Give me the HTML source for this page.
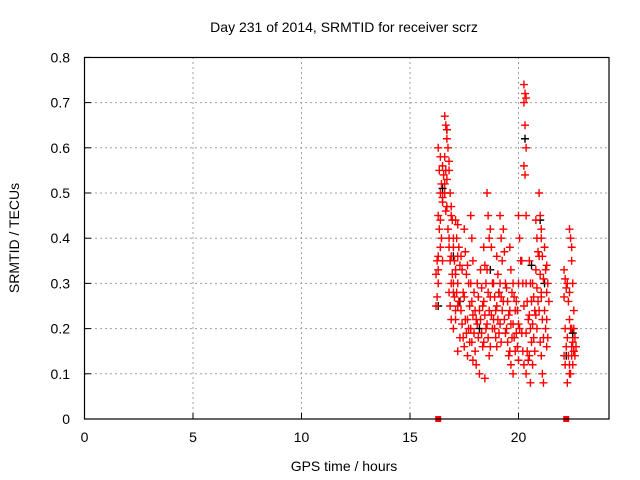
<!DOCTYPE html>
<html><head><meta charset="utf-8"><style>
body{margin:0;background:#fff;}
svg{display:block;font-family:"Liberation Sans",sans-serif;}
</style></head><body>
<svg id="chart" width="640" height="480" viewBox="0 0 640 480">
<text x="344" y="32" font-size="14" text-anchor="middle">Day 231 of 2014, SRMTID for receiver scrz</text>
<text transform="translate(19,238) rotate(-90)" font-size="14" text-anchor="middle">SRMTID / TECUs</text>
<text x="344" y="471" font-size="14" text-anchor="middle">GPS time / hours</text>
<g id="grid"></g><g id="ticks"></g><g id="marks"></g>
<rect x="84.5" y="57.5" width="524.5" height="361.5" fill="none" stroke="#000" stroke-width="1.2"/>
</svg>
<script>
const xTicks=[0,5,10,15,20];
const yTicks=[0,0.1,0.2,0.3,0.4,0.5,0.6,0.7,0.8];
const yTickLabels=["0","0.1","0.2","0.3","0.4","0.5","0.6","0.7","0.8"];
const redTimes=[16.25,16.35,16.45,16.55,16.65,16.75,16.85,16.95,17.05,17.15,17.25,17.4,17.55,17.7,17.85,18.0,18.15,18.3,18.45,18.6,18.75,18.9,19.05,19.2,19.35,19.5,19.65,19.8,19.95,20.05,20.2,20.3,20.4,20.55,20.7,20.85,21.0,21.1,21.25,21.35,22.15,22.3,22.4,22.5,22.6];
const redValues=[
[.32,.35,.3,.25,.27,.36],
[.6,.55,.5,.45,.42,.38,.33],
[.58,.52,.48,.44,.4,.35],
[.56,.54,.52,.49],
[.67,.65,.62,.58,.55,.53,.5,.46],
[.64,.6,.57,.47,.42,.38],
[.55,.5,.45,.4,.35,.3,.28,.25],
[.47,.44,.4,.36,.32,.28,.22],
[.38,.35,.33,.3,.27,.24,.2],
[.44,.4,.36,.32,.28,.25,.22],
[.43,.38,.34,.3,.26,.18,.15],
[.36,.33,.28,.24,.21,.18],
[.42,.37,.32,.27,.22,.19,.16],
[.34,.3,.25,.22,.2,.17,.14],
[.45,.4,.35,.3,.26,.23,.2,.17,.13],
[.28,.24,.22,.19,.15,.12],
[.3,.27,.24,.21,.18,.1],
[.33,.29,.25,.22,.19,.16],
[.38,.34,.3,.26,.23,.2,.17,.09],
[.5,.45,.4,.33,.28,.24,.21,.18,.14],
[.42,.38,.3,.27,.23,.2,.16],
[.3,.27,.24,.22,.2,.18],
[.36,.32,.28,.25,.22,.19,.16],
[.45,.4,.35,.3,.27,.24,.21,.17],
[.42,.37,.3,.26,.22,.19],
[.29,.26,.23,.2,.17,.14],
[.38,.33,.28,.24,.21,.18,.15,.12],
[.3,.27,.24,.21,.18,.15,.1],
[.26,.24,.21,.19,.16,.13],
[.45,.4,.35,.3,.2],
[.35,.3,.25,.19,.15,.12],
[.74,.72,.71,.7,.65,.6,.56,.54,.45],
[.3,.26,.22,.19,.15,.13,.1],
[.35,.3,.26,.23,.2,.17,.14,.08],
[.3,.27,.24,.21,.18,.15,.12],
[.44,.4,.37,.33,.29,.26,.23,.2],
[.5,.45,.4,.36,.32,.28,.24,.17],
[.42,.36,.31,.27,.22,.18,.14,.1,.08],
[.38,.33,.28,.24,.2,.16],
[.34,.3,.26,.22,.18],
[.33,.31,.29,.27,.2,.16,.14,.12],
[.3,.26,.22,.18,.14,.1,.08],
[.42,.4,.35,.28,.2,.16,.12,.1],
[.38,.3,.24,.2,.17,.15,.14,.12],
[.2,.18,.16,.15,.14]];
const blackTimes=[16.3,16.5,16.7,17.0,17.3,18.2,18.7,19.1,20.3,20.6,21.0,21.2,22.2,22.5];
const blackValues=[.25,.51,.64,.36,.26,.2,.33,.28,.62,.34,.44,.3,.14,.19];
const zeroTimes=[16.3,22.2];
const NS="http://www.w3.org/2000/svg";
const X0=84.5,PXH=21.7,Y0=419,PXV=452;
function sx(t){return X0+t*PXH;}
function sy(v){return Y0-v*PXV;}
function mk(tag,attrs,parent){const e=document.createElementNS(NS,tag);for(const k in attrs)e.setAttribute(k,attrs[k]);document.getElementById(parent).appendChild(e);return e;}
xTicks.forEach((t,i)=>{
  const x=sx(t);
  if(i>0){const g=mk('line',{x1:x,x2:x,y1:57,y2:419,stroke:'#a0a0a0','stroke-dasharray':'2,3'},'grid');
  
  }
  const tk=mk('line',{x1:x,x2:x,y1:419,y2:413,stroke:'#000'},'ticks');
  
  
  const tx=mk('text',{x:x,y:442,'font-size':14,'text-anchor':'middle'},'ticks');
  tx.textContent=String(t);
  
  
});
yTicks.forEach((v,i)=>{
  const y=sy(v);
  if(i>0&&i<yTicks.length-1){const g=mk('line',{x1:85,x2:609,y1:y,y2:y,stroke:'#a0a0a0','stroke-dasharray':'2,3'},'grid');
  
  }
  const tk=mk('line',{x1:85,x2:91,y1:y,y2:y,stroke:'#000'},'ticks');
  
  
  const tx=mk('text',{x:70,y:y+5,'font-size':14,'text-anchor':'end'},'ticks');
  tx.textContent=yTickLabels[i];
  
  
});
function plus(t,v,c){
  const x=sx(t),y=sy(v);
  const p=mk('path',{d:`M${x-4},${y}H${x+4}M${x},${y-4}V${y+4}`,stroke:c,'stroke-width':1.4,fill:'none'},'marks');
  return p;
}
blackTimes.forEach((t,i)=>{
  const p=plus(t,blackValues[i],'#000');
  
  
});
redTimes.forEach((t,i)=>{
  redValues[i].forEach((v,j)=>{
    const dt=((j%3)-1)*0.05;
    const p=plus(t+dt,v,'#f00');
    
    
  });
});
zeroTimes.forEach(t=>{
  const r=mk('rect',{x:sx(t)-3,y:Y0-3,width:6,height:6,fill:'#f00'},'marks');
  
  
});
</script>
</body></html>
